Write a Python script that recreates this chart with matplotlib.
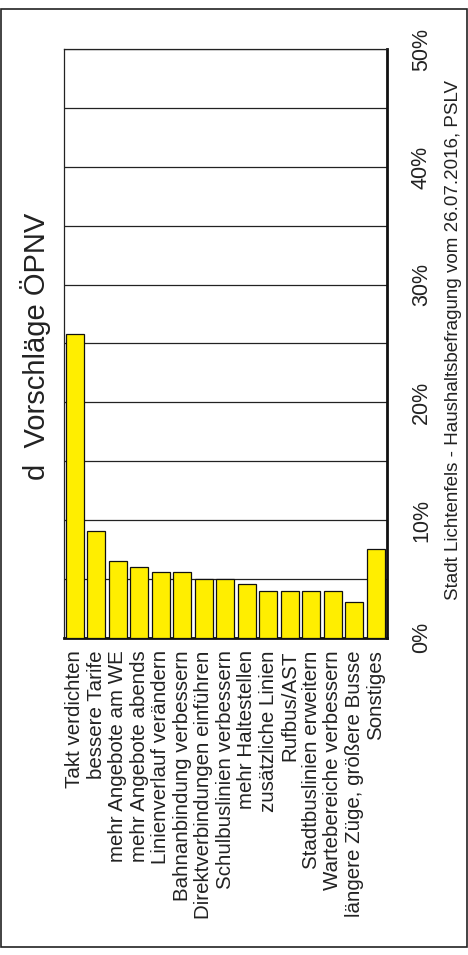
import matplotlib
matplotlib.use("Agg")
import matplotlib.pyplot as plt
from matplotlib import font_manager
from matplotlib.patches import Rectangle
import numpy as np

categories = [
    "Takt verdichten",
    "bessere Tarife",
    "mehr Angebote am WE",
    "mehr Angebote abends",
    "Linienverlauf verändern",
    "Bahnanbindung verbessern",
    "Direktverbindungen einführen",
    "Schulbuslinien verbessern",
    "mehr Haltestellen",
    "zusätzliche Linien",
    "Rufbus/AST",
    "Stadtbuslinien erweitern",
    "Wartebereiche verbessern",
    "längere Züge, größere Busse",
    "Sonstiges",
]
values = [25.8, 9.1, 6.5, 6.0, 5.6, 5.6, 5.0, 5.0, 4.6, 4.0, 4.0, 4.0, 4.0, 3.0, 7.5]
value_ticks = [0, 10, 20, 30, 40, 50]
value_tick_labels = ["0%", "10%", "20%", "30%", "40%", "50%"]
title = "d  Vorschläge ÖPNV"
source = "Stadt Lichtenfels - Haushaltsbefragung vom 26.07.2016, PSLV"


def has_font(name):
    try:
        font_manager.findfont(name, fallback_to_default=False)
        return True
    except Exception:
        return False


narrow = "Liberation Sans Narrow" if has_font("Liberation Sans Narrow") else None
regular = "Liberation Sans"
tick_family = narrow or regular
tick_size = 18.5 if narrow else 15.5

W, H = 468, 955
fig = plt.figure(figsize=(W / 100, H / 100), dpi=100)
fig.patch.set_facecolor("white")

left, right, top, bottom = 64, 386.7, 49.3, 637.7
ax = fig.add_axes([left / W, (H - bottom) / H, (right - left) / W, (bottom - top) / H])

x = np.arange(len(categories))
ax.bar(x, values, width=0.84, color="#FFEE00", edgecolor="#111111",
       linewidth=0.9, zorder=3)

ax.set_xlim(-0.5, len(categories) - 0.5)
ax.set_ylim(0, 50)

# value axis on the right, gridlines every 5 %
ax.set_yticks(value_ticks)
ax.set_yticklabels(value_tick_labels)
ax.set_yticks(np.arange(0, 51, 5), minor=True)
ax.yaxis.tick_right()
ax.tick_params(axis="y", which="both", length=0, pad=29, labelsize=tick_size,
               labelcolor="#222222")
for lab in ax.get_yticklabels():
    lab.set_family(tick_family)
    lab.set_rotation(90)
    lab.set_rotation_mode("anchor")
    lab.set_ha("center")
    lab.set_va("baseline")
ax.grid(axis="y", which="both", color="#222222", linewidth=0.9, zorder=0)
ax.set_axisbelow(True)

# category labels below the bars
ax.set_xticks(x)
ax.set_xticklabels(categories, rotation=90, fontsize=14.8, family=regular,
                   color="#222222", ha="center", va="top")
ax.tick_params(axis="x", length=0, pad=9)

for side in ("top", "left"):
    ax.spines[side].set_linewidth(0.9)
    ax.spines[side].set_color("#222222")
for side in ("right", "bottom"):
    ax.spines[side].set_linewidth(2.0)
    ax.spines[side].set_color("#111111")

fig.text(45 / W, (H - 346) / H, title, rotation=90, rotation_mode="anchor",
         ha="center", va="baseline", fontsize=21, family=regular, color="#222222")
fig.text(458 / W, (H - 340) / H, source, rotation=90, rotation_mode="anchor",
         ha="center", va="baseline", fontsize=13.5, family=regular, color="#222222")

fig.add_artist(Rectangle((1 / W, (H - 947) / H), 465.5 / W, 938 / H,
                         transform=fig.transFigure, fill=False,
                         edgecolor="#222222", linewidth=1.2))

fig.savefig("out.png", dpi=100, facecolor="white")
